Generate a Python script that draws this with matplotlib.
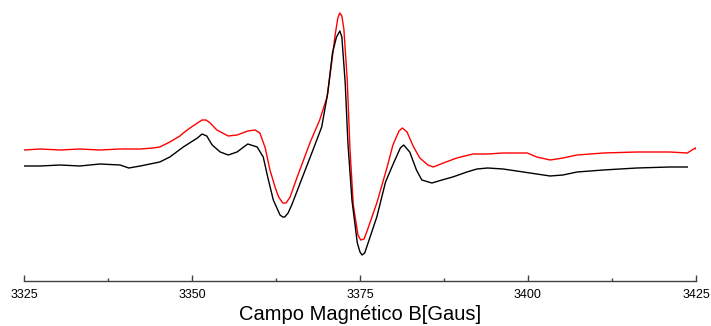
import numpy as np
import matplotlib
matplotlib.use("Agg")
from matplotlib import pyplot as plt
from matplotlib.ticker import MultipleLocator

# field values (Gauss) and intensities, arbitrary units
campo_rojo = [3325.0, 3327.4, 3330.4, 3333.3, 3336.3, 3339.3, 3342.3, 3344.2, 3345.2, 3346.7,
              3348.2, 3348.7, 3349.7, 3350.8, 3351.5, 3352.1, 3352.7, 3353.7, 3355.4, 3356.7,
              3358.3, 3359.4, 3360.1, 3360.9, 3361.6, 3362.4, 3362.9, 3363.5, 3364.0, 3364.6,
              3365.6, 3367.6, 3369.0, 3370.1, 3370.8, 3371.3, 3371.7, 3372.0, 3372.3, 3372.6,
              3373.1, 3373.5, 3374.0, 3374.7, 3375.1, 3375.6, 3376.0, 3377.5, 3379.0, 3379.9,
              3380.8, 3381.3, 3382.0, 3382.9, 3383.9, 3385.1, 3385.9, 3387.4, 3389.4, 3391.8,
              3394.0, 3396.3, 3399.9, 3401.3, 3403.3, 3405.2, 3407.3, 3411.2, 3416.2, 3421.1,
              3423.7, 3424.9, 3425.1]
señal_roja = [131, 132, 131, 132, 131, 132, 132, 133, 134, 139,
              145, 148, 153, 158, 161, 161, 158, 151, 145, 146,
              150, 151, 148, 133, 111, 93, 84, 78, 78, 84,
              103, 139, 161, 184, 219, 246, 263, 268, 265, 252,
              201, 133, 76, 46, 41, 42, 49, 78, 113, 136,
              150, 153, 149, 135, 123, 116, 114, 118, 123, 127,
              127, 128, 128, 124, 121, 123, 126, 128, 129, 129,
              128, 133, 131]

campo_negro = [3325.0, 3327.4, 3330.4, 3333.3, 3336.3, 3339.3, 3340.6, 3342.3, 3345.2, 3346.7,
               3348.7, 3350.8, 3351.5, 3352.2, 3353.0, 3354.2, 3355.4, 3356.7, 3358.3, 3359.7,
               3360.6, 3361.3, 3362.1, 3363.1, 3363.5, 3363.8, 3364.3, 3364.9, 3366.1, 3368.0,
               3369.3, 3370.2, 3370.9, 3371.5, 3372.0, 3372.3, 3372.8, 3373.2, 3373.8, 3374.6,
               3375.0, 3375.3, 3375.7, 3376.0, 3377.5, 3378.8, 3380.0, 3381.0, 3381.5, 3382.4,
               3383.4, 3384.2, 3385.7, 3387.2, 3388.8, 3390.9, 3392.4, 3394.0, 3396.3, 3399.3,
               3403.3, 3405.2, 3407.3, 3411.2, 3416.2, 3421.1, 3423.7]
señal_negra = [115, 115, 116, 115, 117, 116, 113, 115, 119, 124,
               134, 143, 147, 145, 136, 129, 126, 129, 137, 134,
               124, 103, 81, 66, 64, 64, 68, 77, 98, 131,
               154, 188, 228, 244, 250, 244, 198, 138, 81, 38,
               29, 26, 28, 34, 64, 99, 118, 133, 136, 129,
               111, 101, 98, 101, 104, 109, 112, 113, 112, 109,
               105, 106, 109, 111, 113, 114, 114]

ticks_x = [3325, 3350, 3375, 3400, 3425]

fig = plt.figure(figsize=(7.11, 3.26), dpi=100)
ax = fig.add_axes([24/711, 1 - 281/326, 672/711, 276/326])

ax.plot(campo_rojo, señal_roja, color="#ff0000", lw=1.0)
ax.plot(campo_negro, señal_negra, color="black", lw=1.0)

ax.set_xlim(3325, 3425)
ax.set_ylim(0, 276)

for s in ["top", "right", "left"]:
    ax.spines[s].set_visible(False)
ax.spines["bottom"].set_color("#404040")
ax.spines["bottom"].set_linewidth(1.0)
ax.set_yticks([])

ax.set_xticks(ticks_x)
ax.set_xticklabels([str(t) for t in ticks_x], family=["Liberation Sans Narrow", "Liberation Sans"], fontsize=9)
ax.xaxis.set_minor_locator(MultipleLocator(12.5))
ax.tick_params(axis="x", which="major", direction="in", length=4, width=1, color="#404040", pad=6)
ax.tick_params(axis="x", which="minor", direction="in", length=2, width=1, color="#404040")

ax.set_xlabel("Campo Magnético B[Gaus]", family=["Liberation Sans Narrow", "Liberation Sans"], fontsize=14.5, labelpad=3)

fig.savefig("out.png", dpi=100)
